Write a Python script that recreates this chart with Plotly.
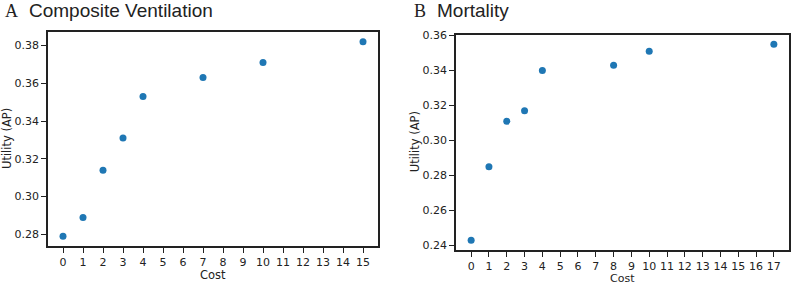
import plotly.graph_objects as go

cost_a = [0, 1, 2, 3, 4, 7, 10, 15]
util_a = [0.279, 0.289, 0.314, 0.331, 0.353, 0.363, 0.371, 0.382]
cost_b = [0, 1, 2, 3, 4, 8, 10, 17]
util_b = [0.243, 0.285, 0.311, 0.317, 0.340, 0.343, 0.351, 0.355]

ticks_a_x = list(range(0, 16))
ticks_b_x = list(range(0, 18))
ticks_a_y = [0.28, 0.30, 0.32, 0.34, 0.36, 0.38]
ticks_b_y = [0.24, 0.26, 0.28, 0.30, 0.32, 0.34, 0.36]

W, H = 792, 284
BLUE = "#1f77b4"
TICKFONT = dict(family="DejaVu Sans", size=11, color="#222")

fig = go.Figure()
fig.add_trace(go.Scatter(x=cost_a, y=util_a, mode="markers", xaxis="x", yaxis="y",
                         marker=dict(color=BLUE, size=7, line=dict(width=0)), showlegend=False))
fig.add_trace(go.Scatter(x=cost_b, y=util_b, mode="markers", xaxis="x2", yaxis="y2",
                         marker=dict(color=BLUE, size=7, line=dict(width=0)), showlegend=False))

def ax(domain, rng, tickvals, fmt=None, anchor=None):
    d = dict(domain=domain, range=rng, tickvals=tickvals, showgrid=False, zeroline=False,
             showline=True, mirror=True, linecolor="#222", linewidth=1.5,
             ticks="outside", ticklen=5, tickwidth=1.2, tickcolor="#222",
             tickfont=TICKFONT, anchor=anchor, automargin=False)
    if fmt:
        d["tickformat"] = fmt
    return d

xa = [48 / W, 378 / W]
xb = [456 / W, 789 / W]
ya = [1 - 246 / H, 1 - 32 / H]
yb = [1 - 250 / H, 1 - 34.5 / H]

def span(a, b):
    m = (b - a) * 0.05
    return [a - m, b + m]

fig.update_layout(
    width=W, height=H, margin=dict(l=0, r=0, t=0, b=0, autoexpand=False),
    paper_bgcolor="white", plot_bgcolor="white",
    xaxis=ax(xa, span(min(cost_a), max(cost_a)), ticks_a_x, anchor="y"),
    yaxis=ax(ya, span(min(util_a), max(util_a)), ticks_a_y, ".2f", anchor="x"),
    xaxis2=ax(xb, span(min(cost_b), max(cost_b)), ticks_b_x, anchor="y2"),
    yaxis2=ax(yb, span(min(util_b), max(util_b)), ticks_b_y, ".2f", anchor="x2"),
)

LABELFONT = dict(family="DejaVu Sans", size=11.5, color="#222")
LABELFONT_B = dict(family="DejaVu Sans", size=11, color="#222")
TY = 1 - 11 / H
ann = []
# panel titles
ann.append(dict(text="A", x=3 / W, y=TY, xref="paper", yref="paper", xanchor="left", yanchor="middle",
                showarrow=False, font=dict(family="Liberation Serif", size=18, color="#222")))
ann.append(dict(text="Composite Ventilation", x=27 / W, y=TY, xref="paper", yref="paper",
                xanchor="left", yanchor="middle", showarrow=False,
                font=dict(family="Liberation Sans", size=19, color="#222")))
ann.append(dict(text="B", x=412 / W, y=TY, xref="paper", yref="paper", xanchor="left", yanchor="middle",
                showarrow=False, font=dict(family="Liberation Serif", size=18, color="#222")))
ann.append(dict(text="Mortality", x=435 / W, y=TY, xref="paper", yref="paper",
                xanchor="left", yanchor="middle", showarrow=False,
                font=dict(family="Liberation Sans", size=19, color="#222")))
# axis labels
ann.append(dict(text="Cost", x=(xa[0] + xa[1]) / 2, y=1 - 275 / H, xref="paper", yref="paper",
                xanchor="center", yanchor="middle", showarrow=False, font=LABELFONT))
ann.append(dict(text="Cost", x=(xb[0] + xb[1]) / 2, y=1 - 278.5 / H, xref="paper", yref="paper",
                xanchor="center", yanchor="middle", showarrow=False, font=LABELFONT_B))
ann.append(dict(text="Utility (AP)", x=7 / W, y=(ya[0] + ya[1]) / 2, xref="paper", yref="paper",
                xanchor="center", yanchor="middle", textangle=-90, showarrow=False, font=LABELFONT))
ann.append(dict(text="Utility (AP)", x=415 / W, y=(yb[0] + yb[1]) / 2, xref="paper", yref="paper",
                xanchor="center", yanchor="middle", textangle=-90, showarrow=False, font=LABELFONT))
fig.update_layout(annotations=ann)

fig.write_html("out.html", config={"displayModeBar": False},
               post_script="document.body.style.margin='0';document.body.style.padding='0';document.body.style.overflow='hidden';")
